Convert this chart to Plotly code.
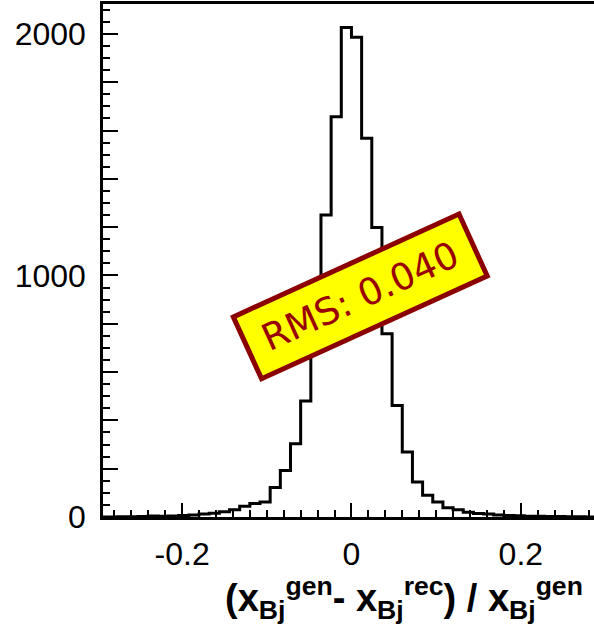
import numpy as np
import plotly.graph_objects as go

# Histogram of the relative x_Bj resolution: 50 bins from -0.3 to 0.3
bin_lo = -0.3
bin_width = 0.012
counts = [
    0, 0, 1, 1, 2, 4, 3, 4, 6, 8,
    12, 16, 22, 30, 45, 56, 62, 122, 193, 303,
    480, 800, 1250, 1657, 2027, 1986, 1568, 1199, 759, 462,
    269, 145, 90, 62, 38, 30, 20, 15, 12, 8,
    6, 5, 3, 3, 2, 2, 1, 1, 0, 0,
]
rms_label = "RMS: 0.040"

x_tick_vals = [-0.2, 0.0, 0.2]
x_tick_text = ["-0.2", "0", "0.2"]
y_tick_vals = list(range(0, 2001, 200))
y_tick_text = [str(v) if v % 1000 == 0 else "" for v in y_tick_vals]

edges = np.round(bin_lo + bin_width * np.arange(len(counts) + 1), 4)
step_y = counts + [counts[-1]]

fig = go.Figure()
fig.add_trace(go.Scatter(
    x=edges, y=step_y, mode="lines",
    line=dict(shape="hv", color="black", width=3),
    hoverinfo="skip", showlegend=False,
))

fig.add_annotation(
    x=0.0103, y=911, xref="x", yref="y",
    text=rms_label, showarrow=False, textangle=-24.5,
    font=dict(family="DejaVu Sans", size=37, color="#990000"),
    bgcolor="#ffff00", bordercolor="#8b0000", borderwidth=5, borderpad=4,
    width=235, height=55, xanchor="center", yanchor="middle",
)

fig.add_annotation(
    x=0.982, y=-0.158, xref="paper", yref="paper",
    text="<b>(x<sub>Bj</sub><sup>gen</sup>- x<sub>Bj</sub><sup>rec</sup>) / x<sub>Bj</sub><sup>gen</sup></b>",
    showarrow=False, xanchor="right", yanchor="middle",
    font=dict(family="Liberation Sans", size=38, color="black"),
)

fig.update_xaxes(
    range=[-0.2934, 0.2864], showgrid=False, zeroline=False,
    showline=True, linecolor="black", linewidth=2.5, mirror=True,
    tickmode="array", tickvals=x_tick_vals, ticktext=x_tick_text,
    ticks="inside", ticklen=14, tickwidth=2, tickcolor="black",
    ticklabelstandoff=7,
    tickfont=dict(family="Liberation Sans", size=32, color="black"),
    minor=dict(tickmode="linear", tick0=0, dtick=0.02, ticks="inside",
               ticklen=7, tickwidth=2, tickcolor="black", showgrid=False),
)
fig.update_yaxes(
    range=[0, 2124], showgrid=False, zeroline=False,
    showline=True, linecolor="black", linewidth=2.5, mirror=False,
    tickmode="array", tickvals=y_tick_vals, ticktext=y_tick_text,
    ticks="inside", ticklen=15, tickwidth=2, tickcolor="black",
    ticklabelstandoff=8,
    tickfont=dict(family="Liberation Sans", size=32, color="black"),
    minor=dict(tickmode="linear", tick0=0, dtick=50, ticks="inside",
               ticklen=7, tickwidth=2, tickcolor="black", showgrid=False),
)

fig.update_layout(
    width=594, height=629,
    margin=dict(l=103, r=0, t=4, b=112, pad=0),
    paper_bgcolor="white", plot_bgcolor="white",
)

fig.write_html("out.html")
